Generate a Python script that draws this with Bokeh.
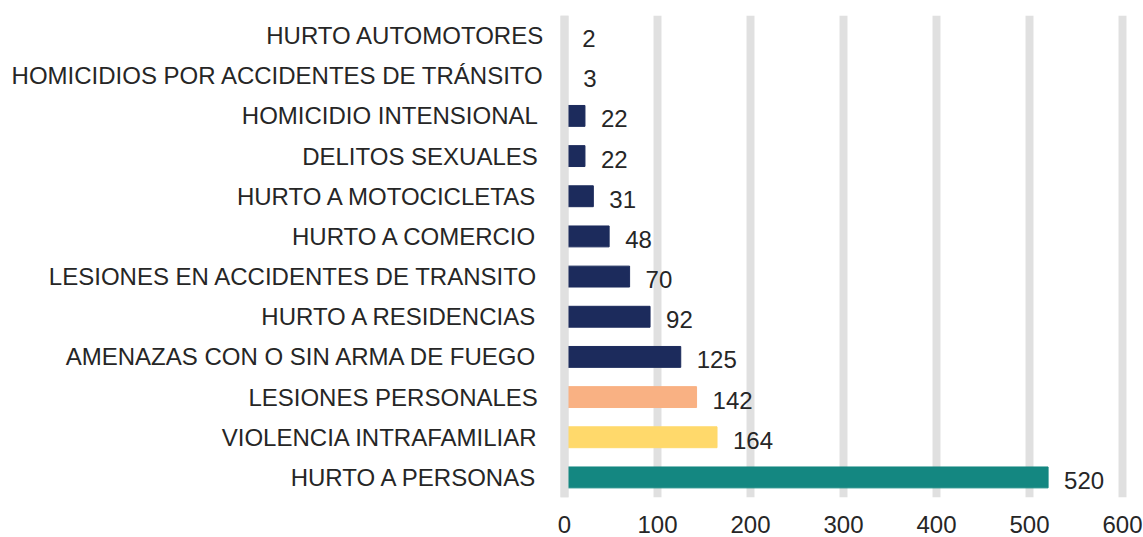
from bokeh.plotting import figure
from bokeh.models import ColumnDataSource, Range1d, FactorRange, Span, FixedTicker
from bokeh.core.properties import value
from bokeh.embed import file_html
from bokeh.resources import INLINE

# Data, top-to-bottom as shown in the chart
categories = [
    "HURTO AUTOMOTORES",
    "HOMICIDIOS POR ACCIDENTES DE TRÁNSITO",
    "HOMICIDIO INTENSIONAL ",
    "DELITOS SEXUALES ",
    "HURTO A MOTOCICLETAS ",
    "HURTO A COMERCIO ",
    "LESIONES EN ACCIDENTES DE TRANSITO ",
    "HURTO A RESIDENCIAS ",
    "AMENAZAS CON O SIN ARMA DE FUEGO ",
    "LESIONES PERSONALES ",
    "VIOLENCIA INTRAFAMILIAR ",
    "HURTO A PERSONAS ",
]
values = [2, 3, 22, 22, 31, 48, 70, 92, 125, 142, 164, 520]
colors = ["#1c2b5c"] * 9 + ["#f9b183", "#ffd96b", "#148781"]
x_ticks = [0, 100, 200, 300, 400, 500, 600]

FONT = "Liberation Sans"
TEXT_COLOR = "#262626"
FS = "24px"

src = ColumnDataSource(dict(cat=categories, val=values, color=colors,
                            label=[str(v) for v in values]))

p = figure(
    width=1143, height=537,
    frame_width=590, frame_height=482,
    y_range=FactorRange(factors=categories[::-1]),
    x_range=Range1d(-11.83, 622.6),
    output_backend="svg", toolbar_location=None,
    min_border_left=553, min_border_right=0, min_border_top=15, min_border_bottom=40,
)
p.outline_line_color = None
p.background_fill_color = "white"

p.hbar(y="cat", right="val", left=0, height=0.52, color="color", source=src)

p.text(x="val", y="cat", text="label", source=src, x_offset=16, y_offset=3,
       text_align="left", text_baseline="middle",
       text_font=value(FONT), text_font_size=FS, text_color=TEXT_COLOR)

p.add_layout(Span(location=0, dimension="height", line_color="#e0e0e0",
                  line_width=8, level="overlay"))

p.xgrid.ticker = FixedTicker(ticks=x_ticks)
p.xgrid.grid_line_color = "#e0e0e0"
p.xgrid.grid_line_width = 8
p.ygrid.grid_line_color = None

p.xaxis.ticker = FixedTicker(ticks=x_ticks)
for ax in (p.xaxis, p.yaxis):
    ax.axis_line_color = None
    ax.major_tick_line_color = None
    ax.minor_tick_line_color = None
    ax.major_label_text_font = FONT
    ax.major_label_text_font_size = FS
    ax.major_label_text_color = TEXT_COLOR
p.xaxis.major_label_standoff = 12
p.yaxis.major_label_standoff = 3

open("out.html", "w").write(file_html(p, INLINE))
